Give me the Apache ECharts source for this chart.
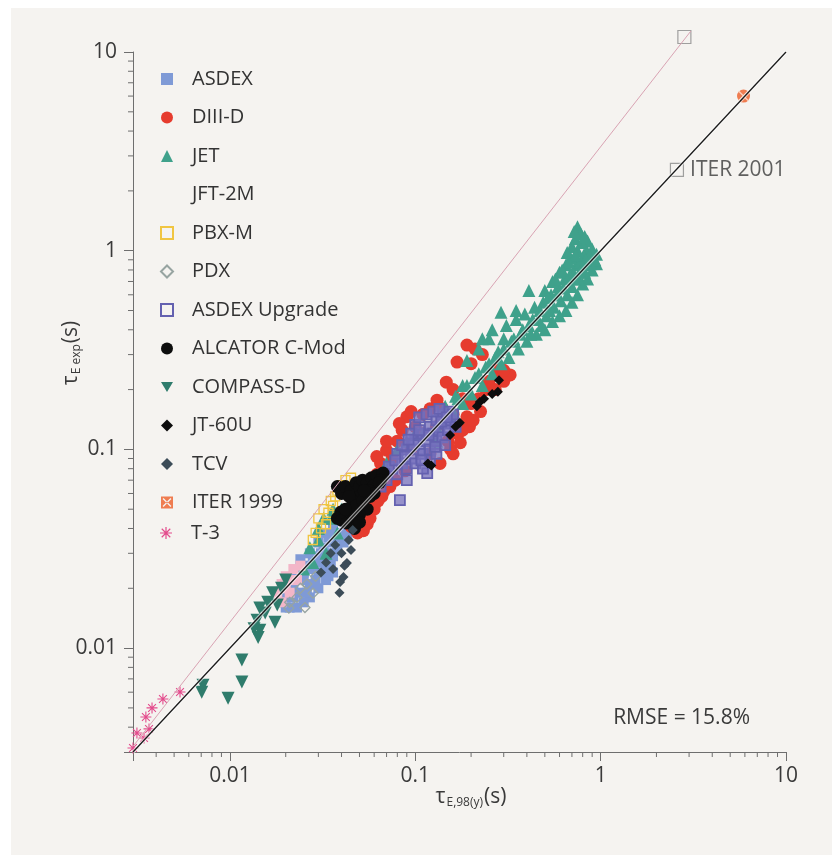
<!DOCTYPE html>
<html>
<head>
<meta charset="utf-8">
<script src="https://cdn.jsdelivr.net/npm/echarts@6.0.0/dist/echarts.min.js"></script>
<style>
  html, body { margin: 0; padding: 0; background: #ffffff; }
  #chart { position: absolute; left: 11px; top: 8px; width: 821px; height: 847px; }
</style>
</head>
<body>
<div id="chart"></div>
<script>
// axis ranges and tick labels
const X_MIN = 0.003, X_MAX = 10;
const Y_MIN = 0.003, Y_MAX = 10;
const X_TICK_LABELS = ['0.01', '0.1', '1', '10'];
const Y_TICK_LABELS = ['0.01', '0.1', '1', '10'];
const MINOR_TICKS = [0.004, 0.005, 0.006, 0.007, 0.008, 0.009,
    0.02, 0.03, 0.04, 0.05, 0.06, 0.07, 0.08, 0.09,
    0.2, 0.3, 0.4, 0.5, 0.6, 0.7, 0.8, 0.9,
    2, 3, 4, 5, 6, 7, 8, 9];

// [tau_98(y), tau_exp] in seconds
const asdex = [[0.02,0.018],[0.022,0.02],[0.024,0.019],[0.025,0.022],[0.027,0.021],[0.028,0.025],[0.03,0.024],
    [0.031,0.027],[0.033,0.026],[0.034,0.03],[0.036,0.029],[0.035,0.034],[0.038,0.036],[0.04,0.038],[0.026,0.026],
    [0.023,0.024],[0.029,0.029],[0.032,0.032],[0.03,0.02],[0.027,0.018],[0.025,0.017],[0.021,0.016],[0.033,0.022],
    [0.036,0.024],[0.042,0.042],[0.045,0.045],[0.044,0.04],[0.041,0.034],[0.024,0.028],[0.027,0.03],[0.03,0.034],
    [0.033,0.038],[0.036,0.04],[0.039,0.044],[0.019,0.017],[0.022,0.022],[0.034,0.023],[0.023,0.016],[0.026,0.019],
    [0.029,0.022],[0.032,0.024],[0.035,0.027],[0.038,0.031],[0.037,0.038],[0.034,0.036],[0.031,0.03],[0.028,0.028],
    [0.025,0.024],[0.022,0.018],[0.02,0.016],[0.043,0.037],[0.047,0.043]];
const diiid = [[0.19,0.335],[0.21,0.32],[0.168,0.275],[0.325,0.237],[0.3,0.22],[0.28,0.24],[0.26,0.26],[0.147,0.218],
    [0.16,0.2],[0.131,0.177],[0.14,0.16],[0.12,0.16],[0.11,0.15],[0.09,0.146],[0.1,0.13],[0.085,0.125],[0.08,0.11],
    [0.07,0.099],[0.075,0.09],[0.065,0.085],[0.062,0.075],[0.19,0.146],[0.196,0.13],[0.17,0.12],[0.15,0.11],
    [0.136,0.085],[0.12,0.095],[0.22,0.18],[0.24,0.2],[0.2,0.17],[0.18,0.18],[0.05,0.048],[0.073,0.065],
    [0.0525,0.039],[0.0488,0.038],[0.055,0.042],[0.06,0.05],[0.058,0.056],[0.066,0.058],[0.045,0.041],[0.068,0.07],
    [0.072,0.078],[0.095,0.1],[0.11,0.12],[0.13,0.13],[0.16,0.15],[0.25,0.22],[0.27,0.2],[0.23,0.3],[0.2,0.27],
    [0.082,0.135],[0.095,0.155],[0.07,0.11],[0.062,0.092],[0.155,0.1],[0.18,0.125],[0.057,0.045],[0.063,0.055],
    [0.068,0.062],[0.078,0.07],[0.088,0.078],[0.16,0.095],[0.175,0.108],[0.205,0.14],[0.225,0.155],[0.3,0.25]];
const jet = [[0.95,0.86],[0.95,0.96],[0.9,0.8],[0.91,0.92],[0.9,1.02],[0.85,0.72],[0.86,0.85],[0.84,1.0],[0.85,1.12],
    [0.8,0.68],[0.8,0.8],[0.81,0.95],[0.79,1.1],[0.75,0.6],[0.76,0.72],[0.74,0.85],[0.75,1.0],[0.73,1.15],[0.75,1.32],
    [0.7,0.55],[0.7,0.66],[0.71,0.78],[0.69,0.92],[0.7,1.05],[0.65,0.5],[0.66,0.6],[0.64,0.72],[0.65,0.85],[0.66,0.98],
    [0.6,0.47],[0.61,0.56],[0.59,0.66],[0.6,0.78],[0.55,0.44],[0.56,0.52],[0.54,0.6],[0.55,0.7],[0.5,0.4],[0.51,0.47],
    [0.49,0.55],[0.5,0.63],[0.45,0.38],[0.46,0.45],[0.44,0.52],[0.41,0.63],[0.4,0.35],[0.41,0.42],[0.39,0.48],
    [0.36,0.32],[0.37,0.38],[0.35,0.45],[0.32,0.29],[0.33,0.35],[0.31,0.42],[0.29,0.27],[0.3,0.32],[0.29,0.49],
    [0.26,0.24],[0.27,0.29],[0.25,0.36],[0.23,0.21],[0.24,0.26],[0.22,0.32],[0.2,0.19],[0.21,0.23],[0.19,0.28],
    [0.18,0.17],[0.18,0.21],[0.16,0.155],[0.165,0.185],[0.14,0.14],[0.145,0.165],[0.12,0.12],[0.13,0.11],
    [0.1,0.12],[0.09,0.11],[0.08,0.1],[0.07,0.085],[0.035,0.045],[0.04,0.05],[0.03,0.035],[0.033,0.03],[0.028,0.027],
    [0.025,0.025],[0.03,0.04],[0.045,0.06],[0.038,0.038],[0.032,0.045],[0.027,0.032],[0.036,0.05],
    [0.93,0.9],[0.88,0.86],[0.87,0.95],[0.83,0.9],[0.82,0.78],[0.78,0.88],[0.77,0.78],[0.72,0.72],[0.73,0.95],
    [0.68,0.75],[0.67,0.88],[0.63,0.65],[0.62,0.8],[0.58,0.6],[0.57,0.72],[0.53,0.5],[0.52,0.58],[0.47,0.5],
    [0.48,0.42],[0.43,0.45],[0.42,0.38],[0.38,0.4],[0.34,0.36],[0.3,0.36],[0.28,0.31],[0.25,0.27],[0.22,0.24],
    [0.19,0.21],[0.17,0.18],[0.15,0.15],[0.13,0.13],[0.11,0.12],[0.26,0.4],[0.23,0.36],[0.35,0.5],[0.78,1.22],
    [0.72,1.25],[0.82,1.18]];
const jft2m = [[0.019,0.021],[0.02,0.023],[0.021,0.022],[0.022,0.025],[0.02,0.02],[0.018,0.019],[0.023,0.022],
    [0.021,0.019],[0.024,0.026],[0.019,0.017]];
const pbxm = [[0.03,0.045],[0.032,0.05],[0.034,0.048],[0.035,0.055],[0.037,0.058],[0.033,0.042],[0.031,0.04],
    [0.036,0.052],[0.038,0.062],[0.04,0.066],[0.042,0.07],[0.029,0.038],[0.028,0.035],[0.045,0.072]];
const pdx = [[0.0208,0.0159],[0.0254,0.016],[0.0281,0.0189],[0.023,0.018],[0.026,0.021],[0.029,0.023],[0.024,0.02],
    [0.021,0.017]];
const asdexUpgrade = [[0.08,0.075],[0.085,0.085],[0.09,0.08],[0.08,0.095],[0.09,0.1],[0.095,0.09],[0.1,0.085],
    [0.1,0.11],[0.105,0.1],[0.11,0.095],[0.11,0.12],[0.115,0.11],[0.12,0.1],[0.12,0.13],[0.125,0.12],[0.13,0.11],
    [0.13,0.14],[0.135,0.125],[0.14,0.115],[0.14,0.15],[0.145,0.135],[0.15,0.125],[0.15,0.155],[0.155,0.14],
    [0.16,0.15],[0.1,0.133],[0.095,0.12],[0.085,0.105],[0.075,0.08],[0.07,0.07],[0.072,0.082],[0.116,0.076],
    [0.11,0.08],[0.12,0.088],[0.0826,0.0556],[0.065,0.065],[0.068,0.075],[0.09,0.07],[0.13,0.095],[0.145,0.105],
    [0.165,0.13],[0.105,0.145],[0.115,0.15],[0.125,0.155],[0.135,0.16],[0.088,0.092],[0.098,0.105],[0.108,0.088],
    [0.118,0.118],[0.128,0.103],[0.138,0.138],[0.148,0.145],[0.078,0.088],[0.092,0.112],[0.105,0.125]];
const alcatorCMod = [[0.038,0.065],[0.04,0.06],[0.042,0.065],[0.045,0.062],[0.048,0.068],[0.05,0.065],[0.052,0.07],
    [0.055,0.068],[0.058,0.072],[0.062,0.074],[0.067,0.076],[0.065,0.07],[0.06,0.066],[0.056,0.062],[0.05,0.058],
    [0.046,0.055],[0.044,0.058],[0.0397,0.0484],[0.038,0.045],[0.04,0.044],[0.0428,0.0426],[0.045,0.048],
    [0.048,0.052],[0.052,0.055],[0.055,0.05],[0.05,0.047],[0.046,0.044],[0.042,0.05],[0.06,0.06],[0.064,0.068],
    [0.057,0.058],[0.053,0.062],[0.047,0.04],[0.05,0.043]];
const compassD = [[0.0145,0.0159],[0.014,0.0138],[0.0145,0.0123],[0.0142,0.0113],[0.0175,0.0135],[0.0116,0.0087],
    [0.0116,0.00675],[0.00977,0.0056],[0.00716,0.0065],[0.00705,0.006],[0.016,0.017],[0.017,0.019],[0.0155,0.015],
    [0.018,0.0165],[0.0135,0.0125],[0.019,0.02],[0.02,0.022]];
const jt60u = [[0.117,0.085],[0.122,0.083],[0.154,0.118],[0.174,0.136],[0.165,0.13],[0.223,0.173],[0.235,0.18],
    [0.215,0.165],[0.279,0.195],[0.283,0.223],[0.26,0.19]];
const tcv = [[0.039,0.019],[0.0393,0.0215],[0.041,0.0228],[0.0415,0.026],[0.0428,0.0268],[0.045,0.0312],
    [0.0438,0.035],[0.046,0.0393],[0.035,0.03],[0.033,0.027],[0.037,0.033],[0.031,0.024],[0.036,0.025],[0.04,0.03]];
const iter1999 = [[5.9, 6.0]];
const t3 = [[0.003,0.00314],[0.00315,0.00374],[0.00344,0.00353],[0.00366,0.00392],[0.00352,0.0045],[0.0038,0.005],
    [0.00435,0.00554],[0.00538,0.00601]];
const iter2001 = [[2.58, 2.55], [2.83, 11.9]];
const fitLine = [[0.003, 0.003], [10, 10]];
const t3ToIterLine = [[0.003, 0.0032], [3.07, 12.76]];

const FONT = '"Open Sans", "Noto Sans", sans-serif';
const AXIS_GREY = '#6e6e6e';
const TEXT = '#3a3a3a';

const STAR = 'path://M9,0h2v20h-2z M0,9h20v2h-20z M2.2,3.6L3.6,2.2L17.8,16.4L16.4,17.8Z M16.4,2.2L17.8,3.6L3.6,17.8L2.2,16.4Z';
const CROSS = 'path://M2.2,3.6L3.6,2.2L17.8,16.4L16.4,17.8Z M16.4,2.2L17.8,3.6L3.6,17.8L2.2,16.4Z';
// square with an X cut out (opposite winding), for the ITER 1999 legend key
const CROSSED_BOX = 'path://M0,0L20,0L20,20L0,20Z M2.6,4.2L15.8,17.4L17.4,15.8L4.2,2.6Z M15.8,2.6L2.6,15.8L4.2,17.4L17.4,4.2Z';
const DOWN_TRIANGLE = 'path://M0,0L20,0L10,17Z';

function tickFormatter(labels) {
    return function (v) {
        for (const s of labels) {
            if (Math.abs(Math.log10(v) - Math.log10(Number(s))) < 1e-6) return s;
        }
        return '';
    };
}

function filled(name, data, symbol, size, color, extra) {
    return Object.assign({
        name: name, type: 'scatter', data: data, symbol: symbol, symbolSize: size,
        itemStyle: {color: color, opacity: 1}
    }, extra || {});
}

function open(name, data, symbol, size, color, width, fill) {
    return {
        name: name, type: 'scatter', data: data, symbol: symbol, symbolSize: size,
        itemStyle: {color: fill || 'rgba(0,0,0,0)', borderColor: color, borderWidth: width || 1.5, opacity: 1}
    };
}

function minorTickSeries(axis) {
    return {
        type: 'custom', silent: true, clip: false, z: 5,
        data: MINOR_TICKS.map(v => axis === 'x' ? [v, Y_MIN] : [X_MIN, v]),
        renderItem: function (params, api) {
            const p = api.coord([api.value(0), api.value(1)]);
            const shape = axis === 'x'
                ? {x1: p[0], y1: p[1], x2: p[0], y2: p[1] + 5}
                : {x1: p[0], y1: p[1], x2: p[0] - 5, y2: p[1]};
            return {type: 'line', shape: shape, style: {stroke: AXIS_GREY, lineWidth: 1}};
        }
    };
}

const legendNames = ['ASDEX', 'DIII-D', 'JET', 'JFT-2M', 'PBX-M', 'PDX', 'ASDEX Upgrade',
    'ALCATOR C-Mod', 'COMPASS-D', 'JT-60U', 'TCV', 'ITER 1999'];

const legendBase = {
    orient: 'vertical', left: 149, padding: 0, itemWidth: 12, itemHeight: 12,
    itemGap: 18.5, selectedMode: false,
    textStyle: {fontFamily: FONT, fontSize: 20, color: '#333', lineHeight: 20, padding: [0, 0, 0, 14]}
};

const chart = echarts.init(document.getElementById('chart'));
chart.setOption({
    animation: false,
    backgroundColor: '#f5f3f0',
    textStyle: {fontFamily: FONT},
    grid: {left: 122, right: 46, top: 44, bottom: 103, containLabel: false},
    legend: [
        Object.assign({}, legendBase, {
            top: 61,
            data: legendNames.map(n => {
                if (n === 'JFT-2M') return {name: n, itemStyle: {opacity: 0}};
                if (n === 'ITER 1999') return {name: n, icon: CROSSED_BOX};
                if (n === 'COMPASS-D') return {name: n, icon: DOWN_TRIANGLE};
                if (n === 'ASDEX Upgrade') return {name: n, itemStyle: {color: 'rgba(0,0,0,0)'}};
                return {name: n};
            })
        }),
        Object.assign({}, legendBase, {top: 515, data: ['T-3']})
    ],
    xAxis: {
        type: 'log', logBase: 10, min: X_MIN, max: X_MAX,
        axisLine: {lineStyle: {color: AXIS_GREY, width: 1}},
        axisTick: {length: 9, lineStyle: {color: AXIS_GREY}},
        splitLine: {show: false},
        axisLabel: {formatter: tickFormatter(X_TICK_LABELS), fontSize: 21, color: TEXT, margin: 14,
            fontFamily: FONT, showMinLabel: true, showMaxLabel: true}
    },
    yAxis: {
        type: 'log', logBase: 10, min: Y_MIN, max: Y_MAX,
        axisLine: {lineStyle: {color: AXIS_GREY, width: 1}},
        axisTick: {length: 9, lineStyle: {color: AXIS_GREY}},
        splitLine: {show: false},
        axisLabel: {formatter: tickFormatter(Y_TICK_LABELS), fontSize: 21, color: TEXT, margin: 16,
            fontFamily: FONT, showMinLabel: true, showMaxLabel: true}
    },
    graphic: [
        {
            type: 'text', x: 61, y: 345, rotation: Math.PI / 2, silent: true,
            style: {
                text: '{t|τ}{s|E exp}{t|(s)}', fill: TEXT, align: 'center', verticalAlign: 'middle',
                rich: {
                    t: {fontSize: 21, fontFamily: FONT, lineHeight: 22, verticalAlign: 'top', fill: TEXT},
                    s: {fontSize: 12, fontFamily: FONT, lineHeight: 12, padding: [16, 1, 0, 1], verticalAlign: 'bottom', fill: TEXT}
                }
            }
        },
        {
            type: 'text', x: 460, y: 790, silent: true,
            style: {
                text: '{t|τ}{s|E,98(y)}{t|(s)}', fill: TEXT, align: 'center', verticalAlign: 'middle',
                rich: {
                    t: {fontSize: 21, fontFamily: FONT, lineHeight: 22, verticalAlign: 'top', fill: TEXT},
                    s: {fontSize: 12, fontFamily: FONT, lineHeight: 12, padding: [16, 1, 0, 1], verticalAlign: 'bottom', fill: TEXT}
                }
            }
        },
        {
            type: 'text', x: 739, y: 710, silent: true,
            style: {text: 'RMSE = 15.8%', fill: TEXT, fontSize: 21, fontFamily: FONT,
                align: 'right', verticalAlign: 'middle'}
        }
    ],
    series: [
        filled('ASDEX', asdex, 'rect', 10, '#7f9ad6'),
        filled('DIII-D', diiid, 'circle', 13, '#e63b2e'),
        filled('JET', jet, 'triangle', 13, '#3fa18b'),
        filled('JFT-2M', jft2m, 'rect', 10, '#f3b6c8'),
        open('PBX-M', pbxm, 'rect', 9, '#f0c541', 1.3),
        open('PDX', pdx, 'diamond', 10, '#97a4a1', 1.3),
        open('ASDEX Upgrade', asdexUpgrade, 'rect', 10, '#6461b0', 1.8, 'rgba(118,112,190,0.75)'),
        filled('ALCATOR C-Mod', alcatorCMod, 'circle', 13, '#0d0d0d'),
        filled('COMPASS-D', compassD, DOWN_TRIANGLE, 13, '#2f7c6c'),
        filled('JT-60U', jt60u, 'diamond', 10, '#0d0d0d'),
        filled('TCV', tcv, 'diamond', 10, '#3c4c58'),
        filled('ITER 1999', iter1999, 'circle', 13, '#ef7c50', {clip: false}),
        {name: 'iter1999-cross', type: 'scatter', data: iter1999, symbol: CROSS, symbolSize: 11,
            clip: false, silent: true, itemStyle: {color: '#fbe0d2'}},
        filled('T-3', t3, STAR, 11, '#e34b8c', {clip: false}),
        {name: 'fit-halo', type: 'line', data: fitLine, symbol: 'none', silent: true,
            lineStyle: {color: '#ffffff', width: 3.5, opacity: 0.6}},
        {name: 'fit', type: 'line', data: fitLine, symbol: 'none', silent: true,
            lineStyle: {color: '#1a1a1a', width: 1.3}},
        {name: 't3-iter', type: 'line', data: t3ToIterLine, symbol: 'none', silent: true, clip: false,
            lineStyle: {color: '#d9a3b3', width: 1}},
        {name: 'ITER 2001', type: 'scatter', data: iter2001, symbol: 'rect', symbolSize: 13, clip: false,
            itemStyle: {color: 'rgba(0,0,0,0)', borderColor: '#8a8a8a', borderWidth: 1.2},
            label: {show: true, position: 'right', distance: 6, fontSize: 21, fontFamily: FONT, color: TEXT,
                formatter: p => p.dataIndex === 0 ? 'ITER 2001' : ''}},
        minorTickSeries('x'),
        minorTickSeries('y')
    ]
});
</script>
</body>
</html>
